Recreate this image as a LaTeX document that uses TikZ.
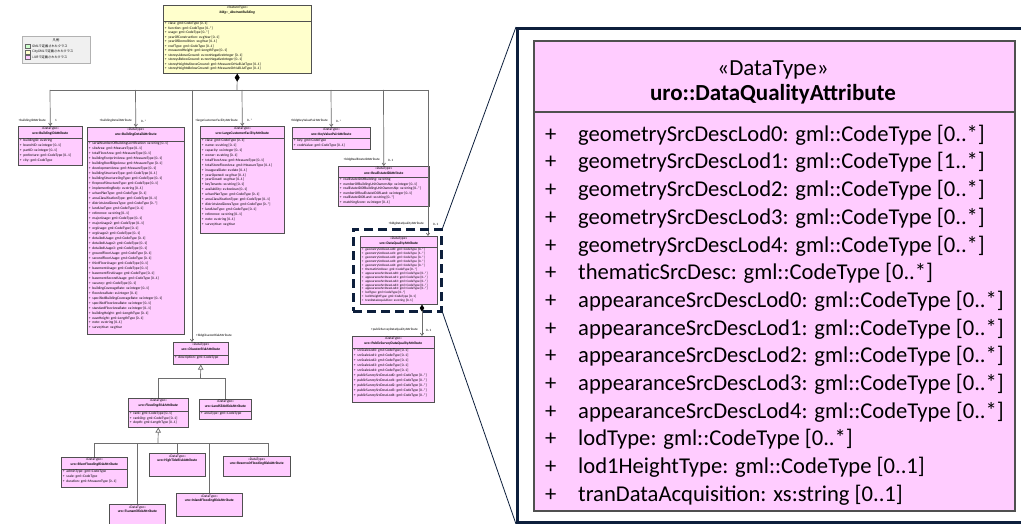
\documentclass[tikz,border=0pt]{standalone}
\usepackage{fontspec}
\setmainfont{Carlito}
\newfontfamily\jpfont{Noto Sans CJK JP}
\usetikzlibrary{arrows.meta}
\definecolor{umlpink}{HTML}{FFCCFF}
\definecolor{umlyellow}{HTML}{FFFFCC}
\definecolor{umlgreen}{HTML}{CCFFCC}
\definecolor{umlborder}{HTML}{505050}
\definecolor{navy}{HTML}{0D1F3C}
\definecolor{conn}{HTML}{6E6E6E}
\definecolor{leggray}{HTML}{F0F0F0}
\def\afs{3.6}\def\als{5}
\newcommand\attrfont{\fontsize{\afs}{\als}\selectfont}
\newcommand\ua[1]{\makebox[3.6pt][l]{+}#1}
\tikzset{
 classbox/.style={draw=umlborder, line width=0.6pt, anchor=north west, inner sep=0pt},
 hdr/.style={font=\fontsize{3.6}{4.4}\selectfont, align=center, anchor=north, inner sep=0pt},
 attrs/.style={font=\attrfont, align=left, anchor=north west, inner sep=0pt},
 sepline/.style={draw=umlborder, line width=0.5pt},
 connline/.style={draw=conn, line width=0.7pt},
 assoc/.style={connline, -{Straight Barb[length=2.4pt,width=3.4pt]}},
 gen/.style={connline, -{Triangle[open,length=5pt,width=5.5pt]}},
 comp/.style={connline, {Diamond[length=7pt,width=4.5pt,color=black,fill=black]}-{Straight Barb[length=2.4pt,width=3.4pt]}},
 trunkline/.style={connline, {Diamond[length=8pt,width=5pt,color=black,fill=black]}-},
 lbl/.style={font=\fontsize{3.3}{4}\selectfont, inner sep=0pt},
 callout/.style={draw=navy, line width=0.8pt},
 bigtxt/.style={font=\fontsize{22.6}{27}\selectfont, inner sep=0pt, anchor=west},
}
% name, x, y, w, h, fill, sepY, header, attrs
\newcommand\cls[9]{%
 \node[classbox, fill=#6, minimum width=#4pt, minimum height=#5pt] (#1) at (#2,#3) {};
 \node[hdr] at ([yshift=-1.3pt]#1.north) {#8};
 \draw[sepline] (#2,#7) -- (#2+#4,#7);
 \node[attrs] at (#2+1.6,#7+0.9) {#9};
}
% name, x, y, w, h, fill, header
\newcommand\clsh[7]{%
 \node[classbox, fill=#6, minimum width=#4pt, minimum height=#5pt] (#1) at (#2,#3) {};
 \node[hdr] at ([yshift=-2pt]#1.north) {#7};
}
\begin{document}
\begin{tikzpicture}[x=1pt,y=-1pt]
\useasboundingbox (0,0) rectangle (1021,524);
\fill[white] (0,0) rectangle (1021,524);

% ---------- legend ----------
\node[draw=black!30, fill=leggray, minimum width=68pt, minimum height=27pt, anchor=north west, inner sep=0pt] (legend) at (22,36) {};
\node[lbl, font=\jpfont\fontsize{3.3}{4}\selectfont] (legtitle) at (56,40.5) {凡例};
\node[draw=black!60, fill=umlgreen, minimum width=5pt, minimum height=4pt, inner sep=0pt, line width=0.3pt] (sw1) at (28,46.5) {};
\node[draw=black!60, fill=umlyellow, minimum width=5pt, minimum height=4pt, inner sep=0pt, line width=0.3pt] (sw2) at (28,52) {};
\node[draw=black!60, fill=umlpink, minimum width=5pt, minimum height=4pt, inner sep=0pt, line width=0.3pt] (sw3) at (28,57.5) {};
\node[lbl, anchor=west, font=\jpfont\fontsize{3.2}{4}\selectfont] (lt1) at (32,46.5) {GMLで定義されたクラス};
\node[lbl, anchor=west, font=\jpfont\fontsize{3.2}{4}\selectfont] (lt2) at (32,52) {CityGMLで定義されたクラス};
\node[lbl, anchor=west, font=\jpfont\fontsize{3.2}{4}\selectfont] (lt3) at (32,57.5) {i-URで定義されたクラス};

% ---------- classes ----------
\def\als{4.5}
\cls{ab}{163}{5}{148}{68}{umlyellow}{21}{«featureType»\\\textbf{\textit{bldg::\_AbstractBuilding}}}{%
\ua{class: gml::CodeType [0..1]}\\
\ua{function: gml::CodeType [0..*]}\\
\ua{usage: gml::CodeType [0..*]}\\
\ua{yearOfConstruction: xs:gYear [0..1]}\\
\ua{yearOfDemolition: xs:gYear [0..1]}\\
\ua{roofType: gml::CodeType [0..1]}\\
\ua{measuredHeight: gml::LengthType [0..1]}\\
\ua{storeysAboveGround: xs:nonNegativeInteger [0..1]}\\
\ua{storeysBelowGround: xs:nonNegativeInteger [0..1]}\\
\ua{storeyHeightsAboveGround: gml::MeasureOrNullListType [0..1]}\\
\ua{storeyHeightsBelowGround: gml::MeasureOrNullListType [0..1]}}

\def\als{5}
\cls{bid}{18}{126}{64}{39}{umlpink}{138}{«DataType»\\\textbf{uro::BuildingIDAttribute}}{%
\ua{buildingID: xs:string}\\
\ua{branchID: xs:integer [0..1]}\\
\ua{partID: xs:integer [0..1]}\\
\ua{prefecture: gml::CodeType [0..1]}\\
\ua{city: gml::CodeType}}

\def\als{4.98}
\cls{bd}{87}{127}{97}{207}{umlpink}{141}{«DataType»\\\textbf{uro::BuildingDetailAttribute}}{%
\ua{serialNumberOfBuildingCertification: xs:string [0..1]}\\
\ua{siteArea: gml::MeasureType [0..1]}\\
\ua{totalFloorArea: gml::MeasureType [0..1]}\\
\ua{buildingFootprintArea: gml::MeasureType [0..1]}\\
\ua{buildingRoofEdgeArea: gml::MeasureType [0..1]}\\
\ua{developmentArea: gml::MeasureType [0..1]}\\
\ua{buildingStructureType: gml::CodeType [0..1]}\\
\ua{buildingStructureOrgType: gml::CodeType [0..1]}\\
\ua{fireproofStructureType: gml::CodeType [0..1]}\\
\ua{implementingBody: xs:string [0..1]}\\
\ua{urbanPlanType: gml::CodeType [0..1]}\\
\ua{areaClassificationType: gml::CodeType [0..1]}\\
\ua{districtsAndZonesType: gml::CodeType [0..*]}\\
\ua{landUseType: gml::CodeType [0..1]}\\
\ua{reference: xs:string [0..1]}\\
\ua{majorUsage: gml::CodeType [0..1]}\\
\ua{majorUsage2: gml::CodeType [0..1]}\\
\ua{orgUsage: gml::CodeType [0..1]}\\
\ua{orgUsage2: gml::CodeType [0..1]}\\
\ua{detailedUsage: gml::CodeType [0..1]}\\
\ua{detailedUsage2: gml::CodeType [0..1]}\\
\ua{detailedUsage3: gml::CodeType [0..1]}\\
\ua{groundFloorUsage: gml::CodeType [0..1]}\\
\ua{secondFloorUsage: gml::CodeType [0..1]}\\
\ua{thirdFloorUsage: gml::CodeType [0..1]}\\
\ua{basementUsage: gml::CodeType [0..1]}\\
\ua{basementFirstUsage: gml::CodeType [0..1]}\\
\ua{basementSecondUsage: gml::CodeType [0..1]}\\
\ua{vacancy: gml::CodeType [0..1]}\\
\ua{buildingCoverageRate: xs:integer [0..1]}\\
\ua{floorAreaRate: xs:integer [0..1]}\\
\ua{specifiedBuildingCoverageRate: xs:integer [0..1]}\\
\ua{specifiedFloorAreaRate: xs:integer [0..1]}\\
\ua{standardFloorAreaRate: xs:integer [0..1]}\\
\ua{buildingHeight: gml::LengthType [0..1]}\\
\ua{eaveHeight: gml::LengthType [0..1]}\\
\ua{note: xs:string [0..1]}\\
\ua{surveyYear: xs:gYear}}

\def\als{4.9}
\cls{lc}{200}{126}{84}{107}{umlpink}{138}{«DataType»\\\textbf{uro::LargeCustomerFacilityAttribute}}{%
\ua{class: gml::CodeType [0..1]}\\
\ua{name: xs:string [0..1]}\\
\ua{capacity: xs:integer [0..1]}\\
\ua{owner: xs:string [0..1]}\\
\ua{totalFloorArea: gml::MeasureType [0..1]}\\
\ua{totalStoreFloorArea: gml::MeasureType [0..1]}\\
\ua{inauguralDate: xs:date [0..1]}\\
\ua{yearOpened: xs:gYear [0..1]}\\
\ua{yearClosed: xs:gYear [0..1]}\\
\ua{keyTenants: xs:string [0..1]}\\
\ua{availability: xs:boolean [0..1]}\\
\ua{urbanPlanType: gml::CodeType [0..1]}\\
\ua{areaClassificationType: gml::CodeType [0..1]}\\
\ua{districtsAndZonesType: gml::CodeType [0..*]}\\
\ua{landUseType: gml::CodeType [0..1]}\\
\ua{reference: xs:string [0..1]}\\
\ua{note: xs:string [0..1]}\\
\ua{surveyYear: xs:gYear}}

\def\als{4.8}
\cls{kv}{292}{127}{78}{22}{umlpink}{138}{«DataType»\\\textbf{uro::KeyValuePairAttribute}}{%
\ua{key: gml::CodeType}\\
\ua{codeValue: gml::CodeType [0..1]}}

\def\als{4.6}
\cls{re}{338}{166}{91}{40}{umlpink}{177}{«DataType»\\\textbf{uro::RealEstateIDAttribute}}{%
\ua{realEstateIDOfBuilding: xs:string}\\
\ua{numberOfBuildingUnitOwnership: xs:integer [0..1]}\\
\ua{realEstateIDOfBuildingUnitOwnership: xs:string [0..*]}\\
\ua{numberOfRealEstateIDOfLand: xs:integer [0..1]}\\
\ua{realEstateIDOfLand: xs:string [0..*]}\\
\ua{matchingScore: xs:integer [0..1]}}

\def\afs{3.3}\def\als{3.95}
\cls{dq}{360}{236}{77}{68}{umlpink}{247}{«DataType»\\\textbf{uro::DataQualityAttribute}}{%
\ua{geometrySrcDescLod0: gml::CodeType [0..*]}\\
\ua{geometrySrcDescLod1: gml::CodeType [1..*]}\\
\ua{geometrySrcDescLod2: gml::CodeType [0..*]}\\
\ua{geometrySrcDescLod3: gml::CodeType [0..*]}\\
\ua{geometrySrcDescLod4: gml::CodeType [0..*]}\\
\ua{thematicSrcDesc: gml::CodeType [0..*]}\\
\ua{appearanceSrcDescLod0: gml::CodeType [0..*]}\\
\ua{appearanceSrcDescLod1: gml::CodeType [0..*]}\\
\ua{appearanceSrcDescLod2: gml::CodeType [0..*]}\\
\ua{appearanceSrcDescLod3: gml::CodeType [0..*]}\\
\ua{appearanceSrcDescLod4: gml::CodeType [0..*]}\\
\ua{lodType: gml::CodeType [0..*]}\\
\ua{lod1HeightType: gml::CodeType [0..1]}\\
\ua{tranDataAcquisition: xs:string [0..1]}}

\def\afs{3.6}\def\als{5}
\cls{ps}{352}{336}{82}{66}{umlpink}{348}{«DataType»\\\textbf{uro::PublicSurveyDataQualityAttribute}}{%
\ua{srcScaleLod0: gml::CodeType [0..1]}\\
\ua{srcScaleLod1: gml::CodeType [0..1]}\\
\ua{srcScaleLod2: gml::CodeType [0..1]}\\
\ua{srcScaleLod3: gml::CodeType [0..1]}\\
\ua{srcScaleLod4: gml::CodeType [0..1]}\\
\ua{publicSurveySrcDescLod0: gml::CodeType [0..*]}\\
\ua{publicSurveySrcDescLod1: gml::CodeType [0..*]}\\
\ua{publicSurveySrcDescLod2: gml::CodeType [0..*]}\\
\ua{publicSurveySrcDescLod3: gml::CodeType [0..*]}\\
\ua{publicSurveySrcDescLod4: gml::CodeType [0..*]}}

\cls{dr}{173}{342}{55}{22}{umlpink}{355}{«DataType»\\\textbf{\textit{uro::DisasterRiskAttribute}}}{%
\ua{description: gml::CodeType}}

\def\als{4.6}
\cls{fr}{128}{398}{60}{29}{umlpink}{411}{«DataType»\\\textbf{\textit{uro::FloodingRiskAttribute}}}{%
\ua{rank: gml::CodeType [0..1]}\\
\ua{rankOrg: gml::CodeType [0..1]}\\
\ua{depth: gml::LengthType [0..1]}}

\cls{ls}{199}{399}{52}{20}{umlpink}{411}{«DataType»\\\textbf{uro::LandSlideRiskAttribute}}{%
\ua{areaType: gml::CodeType}}

\def\als{5}
\cls{rf}{61}{457}{66}{30}{umlpink}{469}{«DataType»\\\textbf{uro::RiverFloodingRiskAttribute}}{%
\ua{adminType: gml::CodeType}\\
\ua{scale: gml::CodeType}\\
\ua{duration: gml::MeasureType [0..1]}}

\clsh{ts}{109}{504}{56}{24}{umlpink}{«DataType»\\\textbf{uro::TsunamiRiskAttribute}}
\clsh{ht}{149}{453}{56}{23}{umlpink}{«DataType»\\\textbf{uro::HighTideRiskAttribute}}
\clsh{inl}{176}{493}{66}{23}{umlpink}{«DataType»\\\textbf{uro::InlandFloodingRiskAttribute}}
\clsh{rv}{223}{456}{67}{20}{umlpink}{«DataType»\\\textbf{uro::ReservoirFloodingRiskAttribute}}

% ---------- associations from AbstractBuilding ----------
\coordinate (trunk) at (237,90);
\coordinate (bBID) at (50,90);
\coordinate (bBD) at (135.5,90);
\coordinate (bDR) at (192,90);
\coordinate (bLC) at (242,90);
\coordinate (bKV) at (331,90);
\coordinate (bRE) at (383.5,90);
\coordinate (bDQ) at (428,90);
\draw[trunkline] (ab.south) -- (trunk);
\draw[connline] (bBID) -- (bDQ);
\draw[assoc] (bBID) -- (bid.north);
\draw[assoc] (bBD) -- (bd.north);
\draw[assoc] (bDR) -- (bDR |- dr.north);
\draw[assoc] (bLC) -- (lc.north);
\draw[assoc] (bKV) -- (kv.north);
\draw[assoc] (bRE) -- (re.north);
\draw[assoc] (bDQ) -- (bDQ |- dq.north);

\node[lbl, anchor=east] (l1) at (46,120.5) {+buildingIDAttribute};
\node[lbl, anchor=west] (m1) at (55,120.5) {1};
\node[lbl, anchor=east] (l2) at (132,121) {+buildingDetailAttribute};
\node[lbl, anchor=west] (m2) at (141,121) {0..*};
\node[lbl, anchor=east] (l3) at (238,120.5) {+largeCustomerFacilityAttribute};
\node[lbl, anchor=west] (m3) at (247,120.5) {0..*};
\node[lbl, anchor=east] (l4) at (328,121) {+bldgKeyValuePairAttribute};
\node[lbl, anchor=west] (m4) at (336,121) {0..*};
\node[lbl, anchor=east] (l5) at (380,160) {+bldgRealEstateIDAttribute};
\node[lbl, anchor=west] (m5) at (388,160) {0..1};
\node[lbl, anchor=east] (l6) at (424,224) {+bldgDataQualityAttribute};
\node[lbl, anchor=west] (m6) at (433,224) {0..1};
\node[lbl, anchor=west] (l7) at (196,336) {+bldgDisasterRiskAttribute};

% ---------- DataQuality -> PublicSurvey ----------
\coordinate (cq) at (422,0);
\draw[comp] (cq |- dq.south) -- (cq |- ps.north);
\node[lbl, anchor=east] (l8) at (418,330) {+publicSurveyDataQualityAttribute};
\node[lbl, anchor=west] (m8) at (426,330) {0..1};

% ---------- generalisations ----------
\coordinate (g1) at (200.5,378);
\draw[gen] (g1) -- (dr.south);
\draw[connline] (fr.north |- g1) -- (ls.north |- g1);
\draw[connline] (fr.north) -- (fr.north |- g1);
\draw[connline] (ls.north) -- (ls.north |- g1);

\coordinate (g2) at (158,443);
\coordinate (rvx) at (268,443);
\draw[gen] (g2) -- (fr.south);
\draw[connline] (rf.north |- g2) -- (rvx);
\draw[connline] (rf.north) -- (rf.north |- g2);
\draw[connline] (ts.north) -- (ts.north |- g2);
\draw[connline] (ht.north) -- (ht.north |- g2);
\draw[connline] (inl.north) -- (inl.north |- g2);
\draw[connline] (rvx |- rv.north) -- (rvx);

% ---------- highlight & callout frame ----------
\node[draw=navy, line width=2.6pt, dash pattern=on 9pt off 5pt, minimum width=88pt, minimum height=82pt, anchor=north west, inner sep=0pt] (hl) at (352,228) {};
\node[draw=navy, line width=3pt, minimum width=510pt, minimum height=494pt, anchor=north west, inner sep=0pt] (frame) at (516,27) {};
\draw[callout] (hl.north east) -- (frame.north west);
\draw[callout] (hl.south east) -- (frame.south west);

% ---------- big DataQuality class ----------
\node[draw=umlborder, line width=1.6pt, fill=umlpink, minimum width=481pt, minimum height=470pt, anchor=north west, inner sep=0pt] (big) at (533,40) {};
\node[font=\fontsize{23}{27}\selectfont, inner sep=0pt] (bigst) at (773,70) {«DataType»};
\node[font=\fontsize{23}{27}\selectfont\bfseries, inner sep=0pt] (bigname) at (773,94) {uro::DataQualityAttribute};
\draw[umlborder, line width=1.6pt] (big.west |- 0,112) -- (big.east |- 0,112);
\foreach \t [count=\i from 0] in {%
geometrySrcDescLod0: gml::CodeType [0..*],
geometrySrcDescLod1: gml::CodeType [1..*],
geometrySrcDescLod2: gml::CodeType [0..*],
geometrySrcDescLod3: gml::CodeType [0..*],
geometrySrcDescLod4: gml::CodeType [0..*],
thematicSrcDesc: gml::CodeType [0..*],
appearanceSrcDescLod0: gml::CodeType [0..*],
appearanceSrcDescLod1: gml::CodeType [0..*],
appearanceSrcDescLod2: gml::CodeType [0..*],
appearanceSrcDescLod3: gml::CodeType [0..*],
appearanceSrcDescLod4: gml::CodeType [0..*],
lodType: gml::CodeType [0..*],
lod1HeightType: gml::CodeType [0..1],
tranDataAcquisition: xs:string [0..1]}{%
 \node[bigtxt] (bp\i) at (545,135+27.7*\i) {+};
 \node[bigtxt] (bt\i) at (578,135+27.7*\i) {\t};
}
\end{tikzpicture}
\end{document}
